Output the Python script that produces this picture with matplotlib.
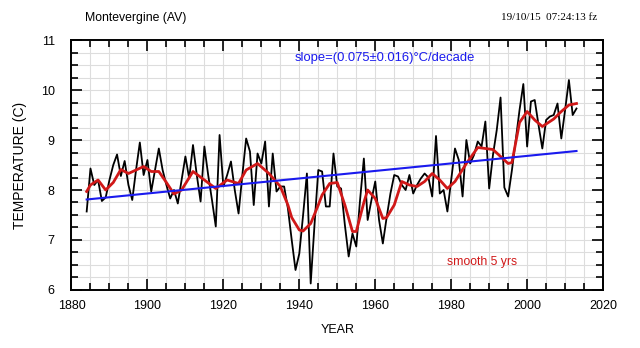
import numpy as np
import matplotlib
matplotlib.use('Agg')
import matplotlib.pyplot as plt
from matplotlib.ticker import MultipleLocator

plt.rcParams['font.family'] = ['Liberation Sans', 'DejaVu Sans']

# annual mean temperature, Montevergine
years = np.arange(1884, 2014)
temps = [7.57, 8.43, 8.10, 8.20, 7.78, 7.85, 8.20, 8.50, 8.71, 8.28,
         8.58, 8.10, 7.80, 8.40, 8.95, 8.30, 8.60, 7.97, 8.40, 8.83,
         8.40, 8.10, 7.83, 8.00, 7.73, 8.20, 8.67, 8.23, 8.90, 8.30,
         7.77, 8.87, 8.30, 7.80, 7.27, 9.10, 8.07, 8.30, 8.57, 8.00,
         7.53, 8.30, 9.03, 8.77, 7.70, 8.73, 8.53, 8.97, 7.67, 8.73,
         7.97, 8.07, 8.07, 7.63, 7.00, 6.40, 6.73, 7.50, 8.33, 6.13,
         7.30, 8.40, 8.37, 7.67, 7.67, 8.73, 8.07, 8.03, 7.30, 6.67,
         7.13, 6.87, 7.80, 8.63, 7.40, 7.80, 8.17, 7.40, 6.93, 7.45,
         7.93, 8.30, 8.27, 8.10, 8.00, 8.30, 7.93, 8.10, 8.23, 8.33,
         8.25, 7.87, 9.08, 7.93, 8.00, 7.57, 8.20, 8.83, 8.60, 7.87,
         9.00, 8.53, 8.70, 8.97, 8.87, 9.37, 8.03, 8.70, 9.20, 9.85,
         8.05, 7.87, 8.40, 9.00, 9.60, 10.12, 8.87, 9.77, 9.80, 9.30,
         8.83, 9.40, 9.47, 9.50, 9.73, 9.03, 9.60, 10.20, 9.50, 9.63]

# 5-year smooth (red)
smooth_years = [1884, 1885, 1887, 1889, 1891, 1893, 1895, 1897, 1899, 1901,
                1903, 1905, 1907, 1909, 1912, 1915, 1918, 1921, 1924, 1926,
                1929, 1932, 1935, 1937, 1938, 1940, 1941, 1943, 1945, 1946,
                1948, 1950, 1952, 1954, 1955, 1957, 1958, 1960, 1962, 1963,
                1965, 1967, 1969, 1971, 1973, 1975, 1977, 1979, 1981, 1984,
                1987, 1989, 1991, 1993, 1995, 1996, 1998, 2000, 2002, 2004,
                2007, 2009, 2011, 2013]
smooth_vals = [7.97, 8.10, 8.20, 8.00, 8.15, 8.41, 8.33, 8.40, 8.47, 8.37,
               8.37, 8.15, 7.92, 8.00, 8.37, 8.20, 8.03, 8.20, 8.13, 8.40,
               8.53, 8.33, 8.07, 7.70, 7.45, 7.20, 7.18, 7.33, 7.70, 7.90,
               8.13, 8.15, 7.70, 7.17, 7.17, 7.75, 8.00, 7.83, 7.43, 7.45,
               7.70, 8.17, 8.10, 8.07, 8.17, 8.33, 8.20, 8.03, 8.17, 8.53,
               8.85, 8.83, 8.81, 8.67, 8.53, 8.55, 9.35, 9.57, 9.40, 9.27,
               9.42, 9.57, 9.70, 9.73]

# linear trend (blue)
trend_years = [1884, 2013]
trend_vals = [7.81, 8.78]

fig = plt.figure(figsize=(6.4, 3.48), dpi=100)
ax = fig.add_axes([0.1117, 0.1667, 0.8306, 0.7183])

ax.plot(years, temps, color='black', lw=1.3, zorder=3)
ax.plot(smooth_years, smooth_vals, color='#d01818', lw=2.0, zorder=4)
ax.plot(trend_years, trend_vals, color='#1a1aee', lw=1.5, zorder=5)

ax.set_xlim(1880, 2020)
ax.set_ylim(6, 11)
ax.xaxis.set_major_locator(MultipleLocator(20))
ax.xaxis.set_minor_locator(MultipleLocator(5))
ax.yaxis.set_major_locator(MultipleLocator(1))
ax.yaxis.set_minor_locator(MultipleLocator(0.25))
ax.grid(which='both', color='#dddddd', lw=0.8, zorder=0)
ax.tick_params(which='both', direction='in', top=True, right=True,
               labelsize=9, width=1.2)
ax.tick_params(axis='x', pad=7)
ax.tick_params(axis='y', pad=12)
ax.tick_params(which='major', length=8)
ax.tick_params(which='minor', length=5)
for s in ax.spines.values():
    s.set_linewidth(1.4)

ax.set_xlabel('YEAR', fontsize=9, labelpad=9)
ax.set_ylabel('TEMPERATURE (C)', fontsize=10, labelpad=10)

ax.text(0.42, 0.93, 'slope=(0.075\u00b10.016)\u00b0C/decade', transform=ax.transAxes,
        color='#1a1aee', fontsize=9.4, va='center', ha='left')
ax.text(0.706, 0.11, 'smooth 5 yrs', transform=ax.transAxes,
        color='#d01818', fontsize=8.8, va='center', ha='left')

fig.text(85 / 640, 1 - 18 / 348, 'Montevergine (AV)', fontsize=8.8,
         va='center', ha='left')
fig.text(597 / 640, 1 - 18 / 348, '19/10/15  07:24:13 fz', fontsize=8,
         family='Liberation Serif', va='center', ha='right')

fig.savefig('out.png', dpi=100)
